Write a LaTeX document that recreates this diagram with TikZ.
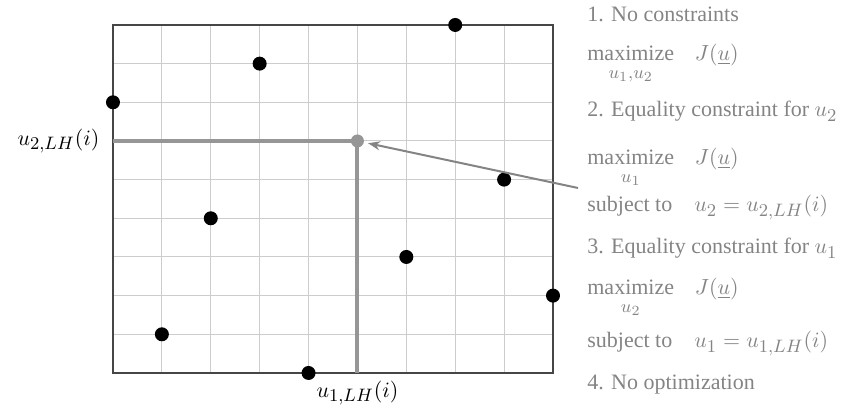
\documentclass[tikz,border=0pt]{standalone}
\usepackage{amsmath}
\usepackage{amssymb}
\usepackage{fontspec}
\setmainfont{Liberation Serif}
\DeclareMathSizes{11}{11}{9}{7}
\usetikzlibrary{arrows.meta}
\definecolor{txtgray}{RGB}{132,132,132}
\definecolor{lhgray}{RGB}{150,150,150}
\definecolor{gridgray}{RGB}{205,205,205}
\definecolor{boxgray}{RGB}{70,70,70}
\newcommand{\maxover}[1]{\displaystyle\mathop{\text{maximize}}\limits_{\rule{0pt}{7pt}#1}\hspace{8.5pt}J(\underline{u})}

\begin{document}
\begin{tikzpicture}[x=24.445pt, y=19.333pt, font=\fontsize{11}{13.5}\selectfont,
  samplept/.style={circle, fill=black, inner sep=0pt, minimum size=7pt},
  lhpt/.style={circle, fill=lhgray, inner sep=0pt, minimum size=6.5pt},
  lhline/.style={draw=lhgray, line width=2pt},
  casetext/.style={anchor=base west, text=txtgray, inner sep=0pt}]
\useasboundingbox (-2.311,-1.034) rectangle (14.891,9.646);
% grid of the design space
\foreach \g in {1,...,8} {
  \draw[gridgray, line width=0.5pt] (\g,0) -- (\g,9);
  \draw[gridgray, line width=0.5pt] (0,\g) -- (9,\g);
}
\draw[boxgray, line width=0.9pt] (0,0) rectangle (9,9);
% chosen Latin hypercube sample
\draw[lhline] (0,6) -- (5,6) -- (5,0);
\node[lhpt] (lh) at (5,6) {};
\foreach \px/\py [count=\k] in {0/7,1/1,2/4,3/8,4/0,6/3,7/9,8/5,9/2}
  \node[samplept] (s\k) at (\px,\py) {};
\node[anchor=east, inner sep=0pt] (lblUtwo) at (-0.27,6) {$u_{2,LH}(i)$};
\node[inner sep=0pt] (lblUone) at (5,-0.52) {$u_{1,LH}(i)$};
% the four cases
\node[casetext] (caseA) at (9.695,9.077) {1. No constraints};
\node[casetext] (maxA) at (9.695,8.08) {$\maxover{u_1,u_2}$};
\node[casetext] (caseB) at (9.695,6.620) {2. Equality constraint for $u_2$};
\node[casetext] (maxB) at (9.695,5.39) {$\maxover{u_1}$};
\node[casetext] (subjB) at (9.695,4.163) {subject to\quad $u_2=u_{2,LH}(i)$};
\node[casetext] (caseC) at (9.695,3.077) {3. Equality constraint for $u_1$};
\node[casetext] (maxC) at (9.695,2.03) {$\maxover{u_2}$};
\node[casetext] (subjC) at (9.695,0.647) {subject to\quad $u_1=u_{1,LH}(i)$};
\node[casetext] (caseD) at (9.695,-0.440) {4. No optimization};
\coordinate (arrStart) at (9.511,4.784);
\draw[txtgray, line width=1pt, -{Stealth[length=6pt,width=4.5pt]}, shorten >=2pt] (arrStart) -- (lh);
\end{tikzpicture}
\end{document}
